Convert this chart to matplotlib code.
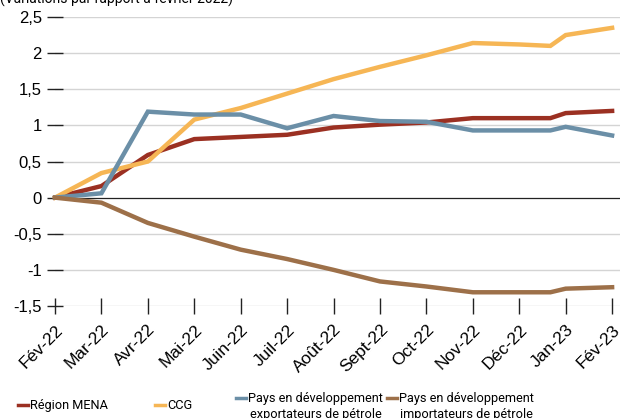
import matplotlib.pyplot as plt
from matplotlib.lines import Line2D

# données (variations par rapport à février 2022)
x_pos = [0, 1, 2, 3, 4, 5, 6, 7, 8, 9, 10, 10.67, 11, 12]
mena = [0, 0.16, 0.59, 0.81, 0.84, 0.87, 0.97, 1.01, 1.04, 1.10, 1.10, 1.10, 1.17, 1.20]
ccg = [0, 0.34, 0.50, 1.08, 1.24, 1.44, 1.64, 1.81, 1.97, 2.14, 2.12, 2.10, 2.25, 2.35]
export_pet = [0, 0.06, 1.19, 1.15, 1.15, 0.96, 1.13, 1.06, 1.05, 0.93, 0.93, 0.93, 0.98, 0.86]
import_pet = [0, -0.07, -0.35, -0.54, -0.72, -0.85, -1.00, -1.16, -1.23, -1.31, -1.31, -1.31, -1.26, -1.24]

month_labels = ["Fév-22", "Mar-22", "Avr-22", "Mai-22", "Juin-22", "Juil-22", "Août-22",
                "Sept-22", "Oct-22", "Nov-22", "Déc-22", "Jan-23", "Fév-23"]
y_ticks = [-1.5, -1, -0.5, 0, 0.5, 1, 1.5, 2, 2.5]
y_labels = ["-1,5", "-1", "-0,5", "0", "0,5", "1", "1,5", "2", "2,5"]

series = [
    ("Région MENA", mena, "#9b3022"),
    ("CCG", ccg, "#f6b655"),
    ("Pays en développement\nexportateurs de pétrole", export_pet, "#6b8fa7"),
    ("Pays en développement\nimportateurs de pétrole", import_pet, "#9d7049"),
]

narrow = ["Roboto", "DejaVu Sans"]
plt.rcParams["font.family"] = ["Liberation Sans", "DejaVu Sans"]

fig = plt.figure(figsize=(6.27, 4.18), dpi=100)
ax = fig.add_axes([55 / 627, 1 - 306 / 418, 565 / 627, 289 / 418])

for name, vals, col in series:
    ax.plot(x_pos, vals, color=col, lw=3.2, solid_joinstyle="miter", clip_on=False, zorder=3)

ax.set_xlim(0, 12.17)
ax.set_ylim(-1.5, 2.5)
ax.set_yticks(y_ticks)
ax.set_yticklabels(y_labels, fontsize=12)
ax.set_xticks(range(len(month_labels)))
ax.set_xticklabels(month_labels, rotation=45, ha="right", rotation_mode="anchor", fontsize=12.5)

for y in y_ticks:
    if y != 0:
        ax.axhline(y, color="#d4d4d4", lw=1, zorder=1)
ax.axhline(0, color="#222222", lw=0.9, zorder=2)

for s in ax.spines.values():
    s.set_visible(False)
ax.tick_params(axis="y", direction="inout", length=11, width=1, color="#222222", pad=4)
ax.tick_params(axis="x", direction="inout", length=11, width=1, color="#222222", pad=6)

fig.text(0.0, 1 - 4 / 418, "(Variations par rapport à février 2022)", fontsize=10,
         family=narrow, va="baseline", ha="left")

# légende : (x de la marque, y de la marque en pixels)
leg_pos = [(18, 405), (155, 405), (236, 398), (387, 398)]
for (name, vals, col), (lx, ly) in zip(series, leg_pos):
    fig.add_artist(Line2D([lx / 627, (lx + 10) / 627], [1 - ly / 418] * 2,
                          color=col, lw=2.5, transform=fig.transFigure))
    fig.text((lx + 12) / 627, 1 - (ly - 6) / 418, name, fontsize=9.2, family=narrow,
             va="top", ha="left", multialignment="center", linespacing=1.3)

fig.savefig("out.png", dpi=100)
